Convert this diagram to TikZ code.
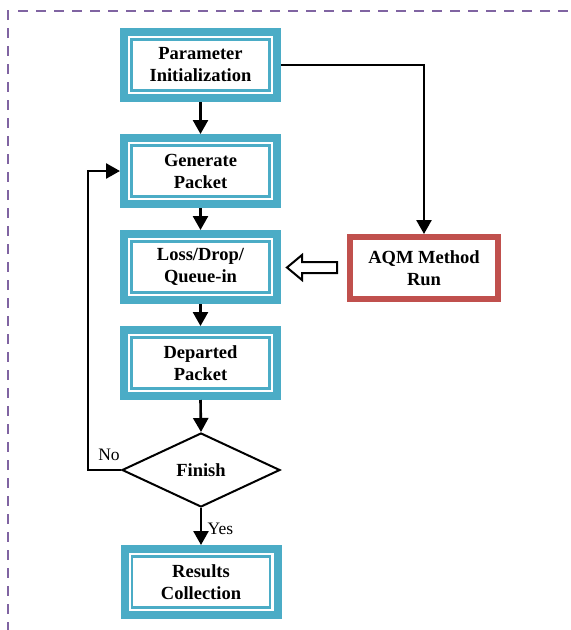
\documentclass[tikz,border=0pt]{standalone}
\usepackage{fontspec}
\setmainfont{Liberation Serif}
\usetikzlibrary{shapes.geometric,arrows.meta}
\definecolor{boxblue}{HTML}{4BACC6}
\definecolor{boxred}{HTML}{C0504D}
\definecolor{framepurple}{HTML}{8064A2}
\tikzset{
  label text/.style={font=\bfseries\fontsize{18.5}{22}\selectfont, align=center},
  stagebox/.style={label text, draw=boxblue, line width=8pt, fill=white,
    minimum width=153pt, minimum height=66pt, inner sep=0pt,
    path picture={\draw[boxblue, line width=2.5pt]
      ([shift={(7.5pt,-7.5pt)}]path picture bounding box.north west) rectangle
      ([shift={(-7.5pt,7.5pt)}]path picture bounding box.south east);}},
  methodbox/.style={label text, draw=boxred, line width=6pt, fill=white,
    minimum width=148pt, minimum height=62pt, inner sep=0pt},
  decision/.style={label text, diamond, draw, line width=2pt, aspect=2.14,
    minimum width=158pt, minimum height=74pt, inner sep=0pt},
  flow/.style={line width=2.6pt, -{Triangle[length=14pt,width=15pt]}},
  hollow/.style={draw, line width=2pt, fill=white, line join=miter},
  frame/.style={framepurple, line width=2.6pt, dash pattern=on 10pt off 8pt},
  branch/.style={font=\fontsize{17.5}{20}\selectfont}
}
\begin{document}
\begin{tikzpicture}[x=1pt, y=-1pt]
  \useasboundingbox (0,0) rectangle (571,630);

  % dashed outer frame, open at the right and the bottom
  \draw[frame] (8,10) -- (8,640);
  \draw[frame] (18,11) -- (580,11);

  % process stages
  \node[stagebox] (init) at (200.5,65)  {Parameter\\Initialization};
  \node[stagebox] (gen)  at (200.5,171) {Generate\\Packet};
  \node[stagebox] (loss) at (200.5,267) {Loss/Drop/\\Queue-in};
  \node[stagebox] (dep)  at (200.5,363) {Departed\\Packet};
  \node[decision] (fin)  at (201,470)   {Finish};
  \node[stagebox] (res)  at (201,582)   {Results\\Collection};
  \node[methodbox] (aqm) at (424,268)   {AQM Method\\Run};

  % bend points of the connectors
  \coordinate (initturn) at (424,65);
  \coordinate (loopbot) at (88,470);
  \coordinate (looptop) at (88,171);

  % main flow
  \draw[flow] (init.south) -- (gen.north);
  \draw[flow] (gen.south) -- (loss.north);
  \draw[flow] (loss.south) -- (dep.north);
  \draw[flow] (dep.south) -- (fin.north);
  \draw[flow] (fin.south) -- node[branch, right, xshift=2pt, yshift=-2pt] {Yes} (res.north);
  \draw[flow] (fin.west) -- (loopbot) -- (looptop) -- (gen.west);
  \node[branch] (nolabel) at (109,455) {No};
  \draw[flow] (init.east) -- (initturn) -- (aqm.north);

  % hollow arrow from the AQM method into the queue stage
  \draw[hollow] (287,267.5) -- (302,255) -- (302,262) -- (337,262) -- (337,273)
    -- (302,273) -- (302,280) -- cycle;
\end{tikzpicture}
\end{document}
